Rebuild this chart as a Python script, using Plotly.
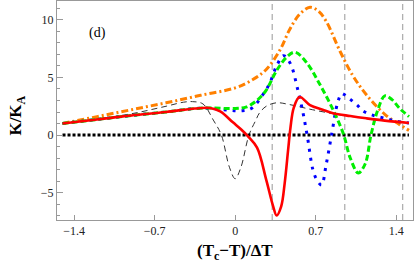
import plotly.graph_objects as go

# ---------------- data ----------------
orange_x = [-1.5, -1.2, -0.9, -0.6, -0.3, 0.0, 0.15, 0.27, 0.39, 0.47, 0.56, 0.65, 0.72, 0.79, 0.91, 1.02, 1.14, 1.3, 1.43, 1.51]
orange_y = [1.0, 1.6, 2.2, 2.8, 3.45, 4.1, 4.8, 5.7, 7.4, 9.1, 10.5, 11.1, 10.8, 9.9, 7.3, 5.2, 3.5, 1.8, 0.9, 0.4]

green_x = [-1.5, -1.2, -0.9, -0.6, -0.35, -0.2, 0.0, 0.1, 0.2, 0.27, 0.36, 0.45, 0.52, 0.62, 0.73, 0.85, 0.94, 1.0, 1.07, 1.13, 1.18, 1.24, 1.3, 1.36, 1.43, 1.51]
green_y = [1.0, 1.35, 1.7, 2.0, 2.3, 2.35, 2.3, 2.45, 3.1, 3.9, 5.6, 6.8, 7.2, 6.3, 4.5, 2.2, 0.1, -2.0, -3.3, -2.5, 0.0, 2.2, 3.4, 3.1, 2.3, 1.6]

blue_x = [-1.5, -1.2, -0.9, -0.6, -0.35, -0.2, -0.05, 0.05, 0.14, 0.24, 0.3, 0.36, 0.42, 0.48, 0.54, 0.59, 0.63, 0.675, 0.71, 0.75, 0.79, 0.84, 0.89, 0.925, 0.95, 1.0, 1.06, 1.11, 1.2, 1.3, 1.4, 1.51]
blue_y = [1.0, 1.35, 1.7, 2.0, 2.3, 2.3, 2.15, 2.1, 2.3, 3.5, 4.5, 6.0, 6.9, 6.2, 4.1, 1.9, -0.3, -3.0, -3.9, -4.35, -2.6, 0.15, 2.8, 3.6, 3.5, 3.1, 2.6, 2.1, 1.7, 1.45, 1.2, 1.05]

red_x = [-1.5, -1.2, -0.9, -0.6, -0.35, -0.22, -0.13, -0.02, 0.05, 0.11, 0.19, 0.27, 0.33, 0.36, 0.4, 0.43, 0.46, 0.48, 0.51, 0.56, 0.65, 0.76, 0.85, 1.0, 1.14, 1.3, 1.51]
red_y = [1.0, 1.35, 1.7, 2.0, 2.3, 2.35, 2.05, 1.1, 0.5, -0.1, -1.1, -3.9, -6.2, -7.0, -6.2, -4.2, -1.3, 0.6, 2.4, 3.3, 2.6, 2.2, 1.9, 1.65, 1.45, 1.25, 1.05]

black_x = [-1.5, -1.2, -0.9, -0.6, -0.45, -0.37, -0.28, -0.19, -0.12, -0.05, 0.0, 0.05, 0.12, 0.18, 0.21, 0.27, 0.36, 0.47, 0.67, 0.91, 1.1, 1.3, 1.51]
black_y = [1.0, 1.4, 1.85, 2.5, 2.85, 2.9, 2.7, 1.3, 0.0, -2.8, -3.8, -2.8, 0.0, 1.3, 1.9, 2.5, 2.8, 2.65, 2.2, 1.75, 1.5, 1.25, 1.05]

vlines_x = [0.322, 0.952, 1.455]

x_ticks = [-1.4, -0.7, 0.0, 0.7, 1.4]
x_ticktext = ["\u22121.4", "\u22120.7", "0", "0.7", "1.4"]
y_ticks = [-5, 0, 5, 10]
y_ticktext = ["\u22125", "0", "5", "10"]

SERIF = "Liberation Serif"

fig = go.Figure()

# vertical reference lines
for xv in vlines_x:
    fig.add_shape(type="line", xref="x", yref="paper", x0=xv, x1=xv, y0=0, y1=1,
                  line=dict(color="#b0b0b0", width=1.3, dash="6px,4px"), layer="below")

# thin black dashed
fig.add_trace(go.Scatter(x=black_x, y=black_y, mode="lines", line_shape="spline",
                         line=dict(color="#333333", width=1, dash="6px,4px")))
# zero line
fig.add_trace(go.Scatter(x=[red_x[0], red_x[-1]], y=[0, 0], mode="lines",
                         line=dict(color="black", width=2.8, dash="3px,2px")))
# orange dash-dot
fig.add_trace(go.Scatter(x=orange_x, y=orange_y, mode="lines", line_shape="spline",
                         line=dict(color="#FF8000", width=3, dash="7px,3px,2px,3px")))
# blue dotted
fig.add_trace(go.Scatter(x=blue_x, y=blue_y, mode="lines", line_shape="spline",
                         line=dict(color="#0000FF", width=3, dash="3px,6px")))
# green dashed
fig.add_trace(go.Scatter(x=green_x, y=green_y, mode="lines", line_shape="spline",
                         line=dict(color="#00EE00", width=3, dash="6px,3px")))
# red solid
fig.add_trace(go.Scatter(x=red_x, y=red_y, mode="lines", line_shape="spline",
                         line=dict(color="#FF0000", width=2.6)))

axis_common = dict(showgrid=False, zeroline=False, showline=True, linecolor="#999999",
                   linewidth=1, mirror=True, ticks="inside", tickcolor="#999999",
                   tickfont=dict(family=SERIF, size=12, color="#222222"))

fig.update_xaxes(range=[-1.548, 1.545], tickvals=x_ticks, ticktext=x_ticktext,
                 ticklen=5, **axis_common)
fig.update_yaxes(range=[-7.39, 11.65], tickvals=y_ticks, ticktext=y_ticktext,
                 ticklen=6, minor=dict(dtick=1, ticklen=3, tickcolor="#999999", ticks="inside"),
                 **axis_common)

fig.add_annotation(text="(d)", x=-1.2, y=8.9, xref="x", yref="y", showarrow=False,
                   font=dict(family=SERIF, size=14, color="black"))
fig.add_annotation(text="<b>(T<sub>c</sub>\u2212T)/\u0394T</b>", x=0.5, y=-0.148,
                   xref="paper", yref="paper", showarrow=False, xanchor="center", yanchor="middle",
                   font=dict(family=SERIF, size=17, color="black"))
fig.add_annotation(text="<b>K/K<sub>A</sub></b>", x=-0.111, y=0.479, textangle=-90,
                   xref="paper", yref="paper", showarrow=False, xanchor="center", yanchor="middle",
                   font=dict(family=SERIF, size=17, color="black"))

fig.update_layout(width=415, height=262, margin=dict(l=57, r=2, t=1, b=42),
                  plot_bgcolor="white", paper_bgcolor="white", showlegend=False)

fig.write_html("out.html", config={"displayModeBar": False, "staticPlot": True},
               post_script="document.body.style.margin='0';document.body.style.overflow='hidden';")
